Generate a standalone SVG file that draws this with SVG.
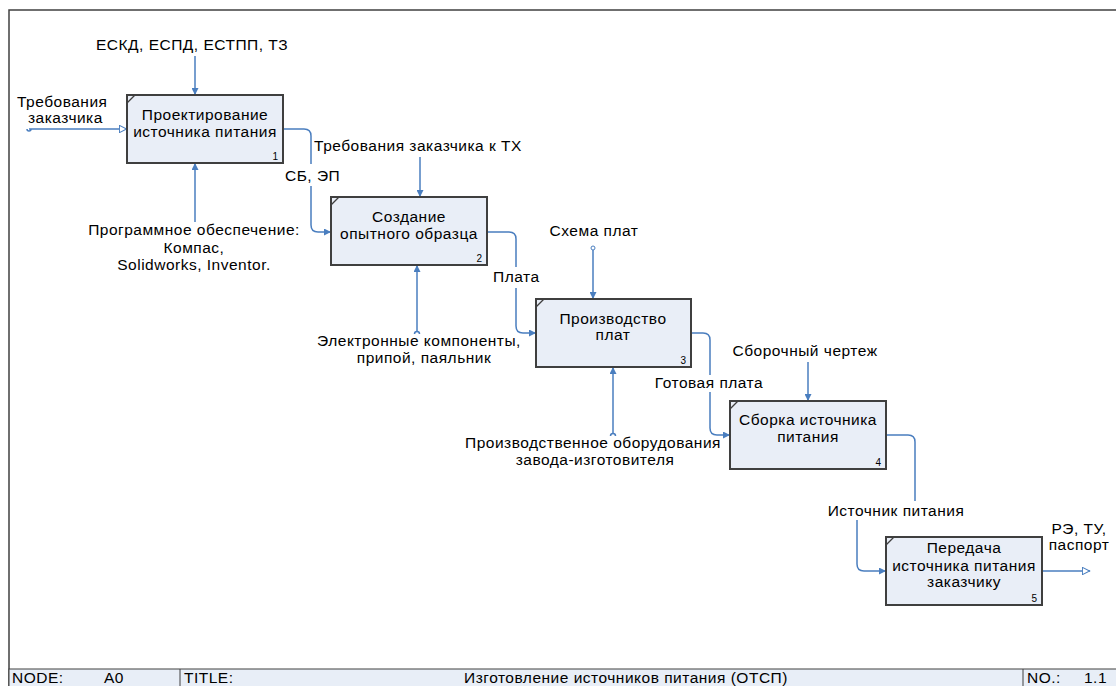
<svg xmlns="http://www.w3.org/2000/svg" width="1116" height="686" viewBox="0 0 1116 686">
<style>
  text { font-family: "Liberation Sans", Arial, sans-serif; fill: #000; }
  .lbl { font-size: 15.5px; letter-spacing: 0.5px; }
  .mid { text-anchor: middle; }
  .num { font-size: 10px; text-anchor: end; }
  .box { fill: #e9eef7; stroke: #3f3f3f; stroke-width: 2; }
  .corner { stroke: #3f3f3f; stroke-width: 1.2; fill: none; }
  .ln { fill: none; stroke: #4a7ebf; stroke-width: 1.5; }
  .arr { marker-end: url(#fa); }
  .oarr { marker-end: url(#oa); }
  .frame { fill: none; stroke: #404040; stroke-width: 1.5; }
  .bar { fill: #e8eef7; stroke: #404040; stroke-width: 1; }
  .ft { font-size: 15.5px; letter-spacing: 0.5px; }
</style>
<defs>
  <marker id="fa" viewBox="0 0 10 10" refX="10" refY="5" markerWidth="9" markerHeight="7" markerUnits="userSpaceOnUse" orient="auto">
    <path d="M0,0 L10,5 L0,10 Z" fill="#4a7ebf"/>
  </marker>
  <marker id="oa" viewBox="0 0 10 10" refX="10" refY="5" markerWidth="9" markerHeight="8" markerUnits="userSpaceOnUse" orient="auto">
    <path d="M0.5,0.5 L9.5,5 L0.5,9.5 Z" fill="#fff" stroke="#4a7ebf" stroke-width="1.3"/>
  </marker>
</defs>
<rect width="1116" height="686" fill="#fff"/>
<!-- frame -->
<g id="frame">
  <path class="frame" d="M1116,10 H9 V686"/>
  <rect class="bar" x="9" y="669" width="1108" height="18"/>
  <line x1="180" y1="669" x2="180" y2="686" stroke="#404040" stroke-width="1"/>
  <line x1="1023" y1="669" x2="1023" y2="686" stroke="#404040" stroke-width="1"/>
  <text class="ft" x="12" y="683">NODE:</text>
  <text class="ft" x="104" y="683">A0</text>
  <text class="ft" x="184" y="683">TITLE:</text>
  <text class="ft mid" x="626" y="683">Изготовление источников питания (ОТСП)</text>
  <text class="ft" x="1027" y="683">NO.:</text>
  <text class="ft" x="1084" y="683">1.1</text>
</g>
<!-- connectors -->
<g id="connectors">
  <!-- box1 -->
  <path class="ln arr" d="M195,56 V95"/>
  <path class="ln oarr" d="M29,129 H127"/>
  <path class="ln" d="M27,129 a2,2 0 0 0 4,0"/>
  <path class="ln arr" d="M195,222 V163"/>
  <path class="ln" d="M283,129 H304 Q311,129 311,136 V164"/>
  <path class="ln arr" d="M311,186 V225 Q311,232 318,232 H331"/>
  <!-- box2 -->
  <path class="ln arr" d="M420,157 V197"/>
  <path class="ln arr" d="M417,332 V265"/>
  <path class="ln" d="M414.5,334 a2.5,2.5 0 0 1 5,0"/>
  <path class="ln" d="M487,232 H509 Q516,232 516,239 V267"/>
  <path class="ln arr" d="M516,288 V326 Q516,333 523,333 H536"/>
  <!-- box3 -->
  <path class="ln arr" d="M593,250 V299"/>
  <circle cx="593" cy="248" r="2" fill="#fff" stroke="#4a7ebf" stroke-width="1"/>
  <path class="ln arr" d="M613,434 V367"/>
  <path class="ln" d="M610.5,436 a2.5,2.5 0 0 1 5,0"/>
  <path class="ln" d="M691,333 H703 Q710,333 710,340 V375"/>
  <path class="ln arr" d="M710,392 V428 Q710,435 717,435 H730"/>
  <!-- box4 -->
  <path class="ln arr" d="M808,362 V401"/>
  <path class="ln" d="M886,435 H908 Q915,435 915,442 V501"/>
  <path class="ln arr" d="M857,520 V564 Q857,571 864,571 H886"/>
  <!-- box5 -->
  <path class="ln oarr" d="M1042,571 H1090"/>
</g>
<!-- labels -->
<g id="labels">
  <text class="lbl mid" x="192" y="50">ЕСКД, ЕСПД, ЕСТПП, ТЗ</text>
  <text class="lbl" x="17" y="107">Требования</text>
  <text class="lbl" x="28" y="123">заказчика</text>
  <text class="lbl mid" x="194" y="235">Программное обеспечение:</text>
  <text class="lbl mid" x="194" y="253">Компас,</text>
  <text class="lbl mid" x="194" y="270">Solidworks, Inventor.</text>
  <text class="lbl" x="285" y="181">СБ, ЭП</text>
  <text class="lbl mid" x="418" y="151">Требования заказчика к ТХ</text>
  <text class="lbl mid" x="419" y="346">Электронные компоненты,</text>
  <text class="lbl mid" x="424" y="363">припой,  паяльник</text>
  <text class="lbl" x="493" y="282">Плата</text>
  <text class="lbl mid" x="594" y="236">Схема плат</text>
  <text class="lbl mid" x="593" y="448">Производственное оборудования</text>
  <text class="lbl mid" x="595" y="465">завода-изготовителя</text>
  <text class="lbl mid" x="709" y="388">Готовая плата</text>
  <text class="lbl mid" x="805" y="356">Сборочный чертеж</text>
  <text class="lbl mid" x="896" y="516">Источник питания</text>
  <text class="lbl mid" x="1079" y="534">РЭ, ТУ,</text>
  <text class="lbl mid" x="1079" y="550">паспорт</text>
</g>
<!-- nodes -->
<g id="node1">
  <rect class="box" x="127" y="95" width="156" height="68"/>
  <path class="corner" d="M127,103 L135,95"/>
  <text class="lbl mid" x="205" y="120">Проектирование</text>
  <text class="lbl mid" x="205" y="137">источника питания</text>
  <text class="num" x="278" y="160">1</text>
</g>
<g id="node2">
  <rect class="box" x="331" y="197" width="156" height="68"/>
  <path class="corner" d="M331,205 L339,197"/>
  <text class="lbl mid" x="409" y="222">Создание</text>
  <text class="lbl mid" x="409" y="239">опытного образца</text>
  <text class="num" x="482" y="262">2</text>
</g>
<g id="node3">
  <rect class="box" x="536" y="299" width="155" height="68"/>
  <path class="corner" d="M536,307 L544,299"/>
  <text class="lbl mid" x="613" y="324">Производство</text>
  <text class="lbl mid" x="613" y="340">плат</text>
  <text class="num" x="686" y="364">3</text>
</g>
<g id="node4">
  <rect class="box" x="730" y="401" width="156" height="68"/>
  <path class="corner" d="M730,409 L738,401"/>
  <text class="lbl mid" x="808" y="425">Сборка источника</text>
  <text class="lbl mid" x="808" y="442">питания</text>
  <text class="num" x="881" y="466">4</text>
</g>
<g id="node5">
  <rect class="box" x="886" y="537" width="156" height="68"/>
  <path class="corner" d="M886,545 L894,537"/>
  <text class="lbl mid" x="964" y="553">Передача</text>
  <text class="lbl mid" x="964" y="571">источника питания</text>
  <text class="lbl mid" x="964" y="587">заказчику</text>
  <text class="num" x="1037" y="602">5</text>
</g>
</svg>
